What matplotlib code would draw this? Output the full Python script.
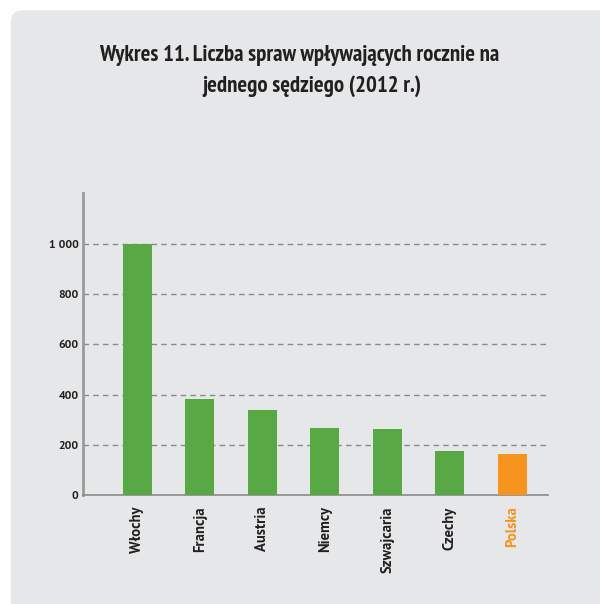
import matplotlib.pyplot as plt
from matplotlib.patches import FancyBboxPatch
import numpy as np

# data
countries = ['Włochy', 'Francja', 'Austria', 'Niemcy', 'Szwajcaria', 'Czechy', 'Polska']
cases = [1000, 381, 338, 266, 262, 175, 163]
yticks = [0, 200, 400, 600, 800, 1000]
ytick_labels = ['0', '200', '400', '600', '800', '1 000']

green = '#58A846'
orange = '#F7941D'
text_col = '#231F20'
panel_col = '#E6E7E8'

title_fonts = ['PT Sans Narrow', 'Roboto Condensed', 'Fira Sans Condensed', 'Open Sans Condensed', 'DejaVu Sans']
tick_fonts = ['PT Sans', 'Open Sans', 'DejaVu Sans']

fig = plt.figure(figsize=(6.0, 6.04), dpi=100)
fig.patch.set_facecolor('white')

# grey rounded panel behind everything
panel = FancyBboxPatch((0.018, -0.05), 1.1, 1.033, boxstyle='round,pad=0,rounding_size=0.02',
                       transform=fig.transFigure, facecolor=panel_col, edgecolor='none', zorder=-5)
fig.patches.append(panel)

# title, two lines (second line sits a bit to the right in the original)
fig.text(0.498, 0.926, 'Wykres 11. Liczba spraw wpływających rocznie na',
         ha='center', va='top', fontsize=16.4, fontweight='bold', color=text_col, family=title_fonts)
fig.text(0.52, 0.876, 'jednego sędziego (2012 r.)',
         ha='center', va='top', fontsize=16.4, fontweight='bold', color=text_col, family=title_fonts)

ax = fig.add_axes([0.138, 0.180, 0.775, 0.500])
ax.set_facecolor('none')

x = np.arange(len(countries))
colors = [green] * (len(countries) - 1) + [orange]
ax.bar(x, cases, width=0.464, color=colors, zorder=3)

ax.set_ylim(0, 1200)
ax.set_xlim(-0.872, 6.57)
ax.set_yticks(yticks)
ax.set_yticklabels(ytick_labels, fontsize=8.5, fontweight='bold', color=text_col, family=tick_fonts)
ax.tick_params(axis='y', length=0, pad=3)

ax.set_xticks(x)
ax.set_xticklabels(countries, rotation=90, fontsize=10.5, fontweight='bold', va='top', ha='center',
                   family=tick_fonts)
ax.tick_params(axis='x', length=0, pad=8)
for lbl, c in zip(ax.get_xticklabels(), colors):
    lbl.set_color(orange if c == orange else text_col)

for v in yticks[1:]:
    ax.axhline(v, color='#8A8A8A', linestyle=(0, (4, 3)), linewidth=1.0, zorder=1)

for s in ['top', 'right']:
    ax.spines[s].set_visible(False)
ax.spines['left'].set_color('#9A9A9A')
ax.spines['left'].set_linewidth(2)
ax.spines['bottom'].set_color('#8A8A8A')
ax.spines['bottom'].set_linewidth(1.2)

fig.savefig('out.png', dpi=100, facecolor=fig.get_facecolor())
